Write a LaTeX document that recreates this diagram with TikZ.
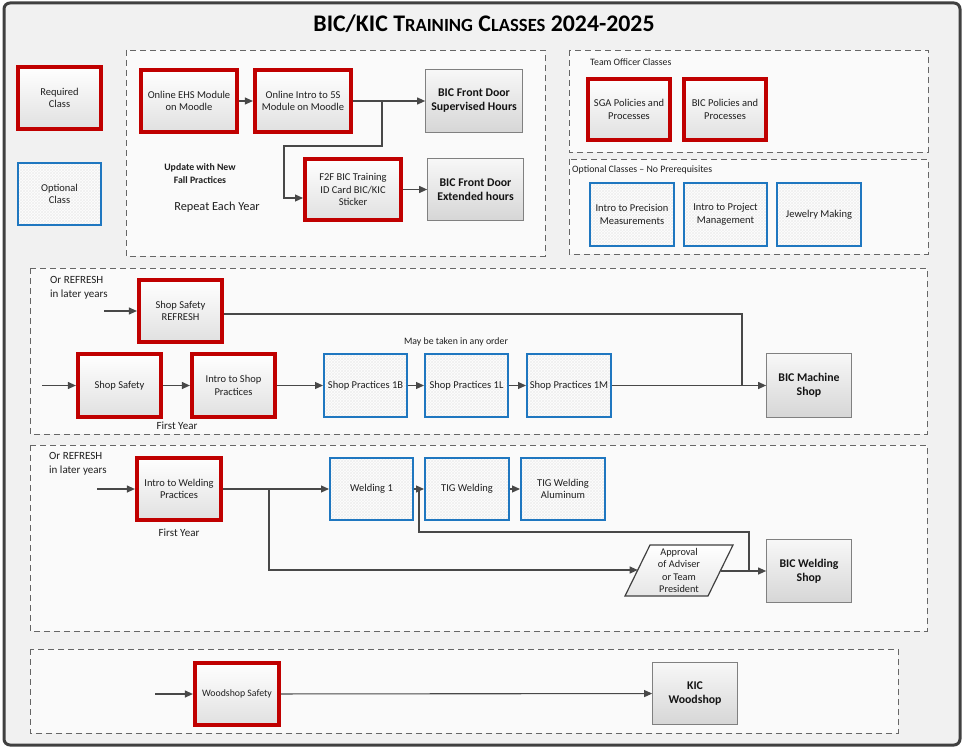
\documentclass[tikz,border=0pt]{standalone}
\usepackage{fontspec}
\setmainfont{Carlito}
\usetikzlibrary{arrows.meta,patterns}
\definecolor{redc}{HTML}{C00000}
\definecolor{bluec}{HTML}{1F77C0}
\definecolor{bgc}{HTML}{F1F1F1}
\definecolor{linec}{HTML}{484848}
\tikzset{
 box/.style={rectangle, align=center, font=\fontsize{10.5}{12.5}\selectfont, inner sep=2pt, text=black!88},
 reqbox/.style={box, draw=redc, line width=3.7pt, top color=white, bottom color=black!12},
 optbox/.style={box, draw=bluec, line width=2pt,
   preaction={fill=white},
   preaction={pattern=north east lines, pattern color=black!6},
   preaction={pattern=north west lines, pattern color=black!6}},
 destbox/.style={box, draw=black!50, line width=1.2pt, top color=black!3, bottom color=black!16,
   font=\bfseries\fontsize{11.8}{14}\selectfont, text=black!92},
 group/.style={draw=black!60, dash pattern=on 6pt off 4pt, line width=0.9pt, fill=white!98!black},
 arr/.style={draw=linec, line width=1.1pt, -{Triangle[length=8pt,width=7pt]}},
 conn/.style={draw=linec, line width=1.1pt},
 lbl/.style={font=\fontsize{11}{14}\selectfont, inner sep=0pt, text=black!88},
 slbl/.style={font=\fontsize{9.8}{11.5}\selectfont, inner sep=0pt, text=black!88},
}
\begin{document}
\begin{tikzpicture}[x=1pt,y=-1pt]
\useasboundingbox (0,0) rectangle (965,749);
% outer frame
\draw[rounded corners=6pt, line width=3pt, draw=black!75, fill=bgc] (4,3) rectangle (960,745);
\node (title) at (484,24) {\fontsize{23.8}{26}\selectfont\bfseries BIC/KIC T{\fontsize{18.6}{20}\selectfont RAINING} C{\fontsize{18.6}{20}\selectfont LASSES} 2024-2025};

% groups
\draw[group] (126,50) rectangle (545,256);
\draw[group] (569,50) rectangle (928,152);
\draw[group] (569,159) rectangle (928,254);
\draw[group] (30,268) rectangle (927,434);
\draw[group] (30,445) rectangle (927,631);
\draw[group] (30,649) rectangle (898,733);

% legend
\node[reqbox, minimum width=83.5pt, minimum height=62.5pt] (leg1) at (59.5,98) {Required\\Class};
\node[optbox, minimum width=83pt, minimum height=62pt] (leg2) at (59.5,194) {Optional\\Class};

% top section
\node[reqbox, minimum width=96.5pt, minimum height=62.5pt] (ehs) at (189,101) {Online EHS Module\\on Moodle};
\node[reqbox, minimum width=96.5pt, minimum height=62.5pt] (fives) at (303,101) {Online Intro to 5S\\Module on Moodle};
\node[destbox, minimum width=96.5pt, minimum height=62.5pt] (sup) at (474,101) {BIC Front Door\\Supervised Hours};
\node[reqbox, minimum width=96.5pt, minimum height=61.5pt] (f2f) at (353,189.5) {F2F BIC Training\\ID Card BIC/KIC\\Sticker};
\node[destbox, minimum width=95.5pt, minimum height=61.5pt] (ext) at (475.5,189.5) {BIC Front Door\\Extended hours};
\node[slbl, font=\bfseries\fontsize{9.8}{13}\selectfont, align=center] (upd) at (200,174) {Update with New\\Fall Practices};
\node[lbl, font=\fontsize{12.3}{14}\selectfont] (rep) at (217,207) {Repeat Each Year};

\draw[arr] (ehs) -- (fives);
\draw[arr] (fives) -- (sup);
\coordinate (b1) at (382,101);
\coordinate (b2) at (284,146);
\coordinate (f2fin) at (303,198);
\draw[arr] (b1) |- (b2) |- (f2fin);
\draw[arr] (f2f) -- (ext);

% team officer
\node[slbl, anchor=west] (team) at (590,62) {Team Officer Classes};
\node[reqbox, minimum width=82.5pt, minimum height=61.5pt] (sga) at (629,109.5) {SGA Policies and\\Processes};
\node[reqbox, minimum width=82.5pt, minimum height=61.5pt] (bicpol) at (725,109.5) {BIC Policies and\\Processes};

% optional
\node[slbl, anchor=west] (optl) at (572,170) {Optional Classes -- No Prerequisites};
\node[optbox, minimum width=84pt, minimum height=63pt] (prec) at (632,214.5) {Intro to Precision\\Measurements};
\node[optbox, minimum width=83pt, minimum height=63pt] (proj) at (725.5,214.5) {Intro to Project\\Management};
\node[optbox, minimum width=84pt, minimum height=63pt] (jew) at (819,214.5) {Jewelry Making};

% machine shop
\node[lbl, anchor=north west, align=left] (orref1) at (50,276) {Or REFRESH\\in later years};
\node[reqbox, minimum width=83.5pt, minimum height=62.5pt] (refresh) at (180.5,311) {Shop Safety\\REFRESH};
\node[reqbox, minimum width=83.5pt, minimum height=63.5pt] (safety) at (119.5,385.5) {Shop Safety};
\node[reqbox, minimum width=83.5pt, minimum height=63.5pt] (introshop) at (233.5,385.5) {Intro to Shop\\Practices};
\node[lbl] (fy1) at (177,426) {First Year};
\node[slbl] (anyorder) at (456,342) {May be taken in any order};
\node[optbox, minimum width=83pt, minimum height=63pt, inner sep=0pt] (sp1b) at (365.5,385.5) {Shop Practices 1B};
\node[optbox, minimum width=83pt, minimum height=63pt, inner sep=0pt] (sp1l) at (466.5,385.5) {Shop Practices 1L};
\node[optbox, minimum width=84pt, minimum height=63pt, inner sep=0pt] (sp1m) at (569,385.5) {Shop Practices 1M};
\node[destbox, minimum width=84.5pt, minimum height=63.5pt] (machine) at (809,385.5) {BIC Machine\\Shop};

\coordinate (s1) at (104,311);
\coordinate (s2) at (42,385.5);
\draw[arr] (s1) -- (refresh);
\draw[arr] (s2) -- (safety);
\draw[arr] (safety) -- (introshop);
\draw[arr] (introshop) -- (sp1b);
\draw[arr] (sp1b) -- (sp1l);
\draw[arr] (sp1l) -- (sp1m);
\draw[arr] (sp1m) -- (machine);
\coordinate (r1) at (742,314);
\draw[conn] (refresh.east |- r1) -- (r1) -- (r1 |- machine.west);

% welding
\node[lbl, anchor=north west, align=left] (orref2) at (49,452) {Or REFRESH\\in later years};
\node[reqbox, minimum width=84.5pt, minimum height=62.5pt] (introweld) at (179,489) {Intro to Welding\\Practices};
\node[lbl] (fy2) at (179,533) {First Year};
\node[optbox, minimum width=83pt, minimum height=62pt] (weld1) at (371.5,489) {Welding 1};
\node[optbox, minimum width=84pt, minimum height=62pt] (tig) at (467,489) {TIG Welding};
\node[optbox, minimum width=84pt, minimum height=62pt] (tigal) at (563,489) {TIG Welding\\Aluminum};
\node[destbox, minimum width=84.5pt, minimum height=62.5pt] (wshop) at (809,571) {BIC Welding\\Shop};

% approval parallelogram
\coordinate (p1) at (650,545);
\coordinate (p2) at (733,545);
\coordinate (p3) at (708,596);
\coordinate (p4) at (625,596);
\draw[draw=black!75, line width=1.2pt, top color=white, bottom color=black!10] (p1) -- (p2) -- (p3) -- (p4) -- cycle;
\node[box, font=\fontsize{10.3}{12.4}\selectfont] (appr) at (679,570.5) {Approval\\of Adviser\\or Team\\President};
\coordinate (apprL) at (637.7,570);
\coordinate (apprR) at (720.7,571);

\coordinate (s3) at (97,489);
\draw[arr] (s3) -- (introweld);
\draw[arr] (introweld) -- (weld1);
\draw[arr] (weld1) -- (tig);
\draw[arr] (tig) -- (tigal);
\coordinate (wb) at (269,489);
\draw[arr] (wb) |- (apprL);
\coordinate (wb2) at (419,489);
\coordinate (wb3) at (749,532);
\draw[conn] (wb2) |- (wb3) -- (wb3 |- wshop.west);
\draw[arr] (apprR) -- (wshop.west);

% woodshop
\node[reqbox, minimum width=84.5pt, minimum height=62.5pt, font=\fontsize{9.8}{11}\selectfont] (wsafe) at (237,694) {Woodshop Safety};
\node[destbox, minimum width=84.5pt, minimum height=61.5pt] (kic) at (695,693.5) {KIC\\Woodshop};
\coordinate (s4) at (155,694);
\draw[arr] (s4) -- (wsafe);
\draw[arr] (wsafe) -- (kic);
\end{tikzpicture}
\end{document}
